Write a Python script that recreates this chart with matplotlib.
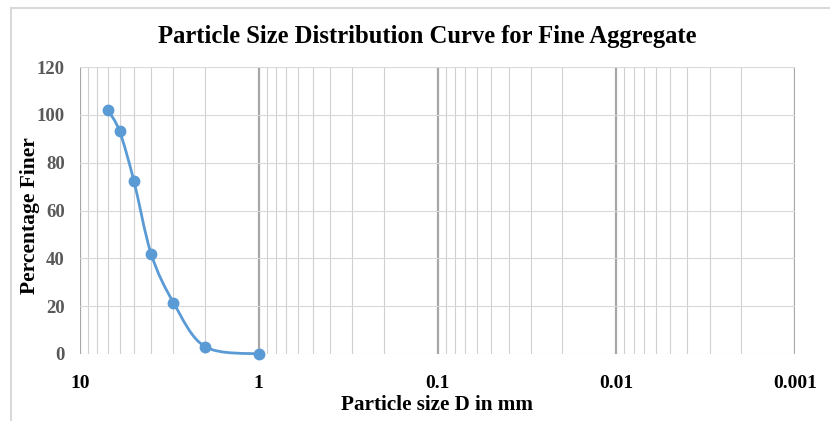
import numpy as np
import matplotlib.pyplot as plt
from matplotlib.path import Path
from matplotlib.patches import PathPatch
from matplotlib.lines import Line2D
from matplotlib.ticker import FixedLocator, LogLocator, NullFormatter

plt.rcParams['font.family'] = ['Liberation Serif', 'DejaVu Serif']

# particle size (mm) and percentage finer
sizes = [7, 6, 5, 4, 3, 2, 1]
finer = [102.1, 93.1, 72.5, 41.9, 21.5, 3.1, 0.0]

x_ticks = [10, 1, 0.1, 0.01, 0.001]
x_tick_labels = ["10", "1", "0.1", "0.01", "0.001"]
y_ticks = [0, 20, 40, 60, 80, 100, 120]

title = "Particle Size Distribution Curve for Fine Aggregate"
x_title = "Particle size D in mm"
y_title = "Percentage Finer"

line_color = "#5B9BD5"


def smooth_path(xs, ys, k=1/6):
    # Excel-like smoothed line: cubic bezier through the points, in log-x space
    lx = np.log10(xs)
    pts = np.column_stack([lx, ys])
    n = len(pts)
    verts = [pts[0]]
    codes = [Path.MOVETO]
    for i in range(n - 1):
        p0 = pts[i - 1] if i > 0 else pts[i]
        p1 = pts[i]
        p2 = pts[i + 1]
        p3 = pts[i + 2] if i + 2 < n else pts[i + 1]
        c1 = p1 + (p2 - p0) * k
        c2 = p2 - (p3 - p1) * k
        verts += [c1, c2, p2]
        codes += [Path.CURVE4] * 3
    verts = np.array(verts)
    verts[:, 0] = 10 ** verts[:, 0]
    return Path(verts, codes)


fig = plt.figure(figsize=(8.3, 4.21), dpi=100)
ax = fig.add_axes([80 / 830, 1 - 354 / 421, 715 / 830, 287 / 421])

ax.set_xscale("log")
ax.set_xlim(10, 0.001)
ax.set_ylim(0, 120)

# grid
ax.xaxis.set_major_locator(FixedLocator(x_ticks))
ax.xaxis.set_minor_locator(LogLocator(base=10, subs=np.arange(2, 10)))
ax.xaxis.set_minor_formatter(NullFormatter())
ax.set_xticklabels(x_tick_labels)
ax.set_yticks(y_ticks)
ax.grid(axis="x", which="major", color="#A6A6A6", lw=1.6)
ax.grid(axis="x", which="minor", color="#D0D0D0", lw=0.8)
ax.grid(axis="y", which="major", color="#D9D9D9", lw=0.8)
ax.set_axisbelow(True)
for s in ax.spines.values():
    s.set_visible(False)
ax.tick_params(axis="both", which="both", length=0)
ax.tick_params(axis="x", pad=15, labelsize=14)
ax.tick_params(axis="y", pad=11, labelsize=13.5, labelcolor="#595959")
for lab in ax.get_xticklabels() + ax.get_yticklabels():
    lab.set_fontweight("bold")

# smoothed curve and markers
ax.add_patch(PathPatch(smooth_path(sizes, finer), fill=False,
                       edgecolor=line_color, lw=2, clip_on=False, zorder=3))
ax.plot(sizes, finer, ls="none", marker="o", ms=7.5, color=line_color,
        clip_on=False, zorder=4)

fig.text(437 / 830, 1 - 405 / 421, x_title, ha="center", va="center",
         fontsize=15.2, fontweight="bold")
fig.text(30 / 830, 1 - 216 / 421, y_title, ha="center", va="center",
         rotation=90, fontsize=15.5, fontweight="bold")
fig.text(427 / 830, 1 - 37 / 421, title, ha="center", va="center",
         fontsize=17.7, fontweight="bold")

# chart border
fig.add_artist(Line2D([11 / 830, 11 / 830], [0, 1 - 7.5 / 421],
                      color="#D9D9D9", lw=1.5))
fig.add_artist(Line2D([11 / 830, 1], [1 - 7.5 / 421, 1 - 7.5 / 421],
                      color="#D9D9D9", lw=1.5))

fig.savefig("out.png", dpi=100)
